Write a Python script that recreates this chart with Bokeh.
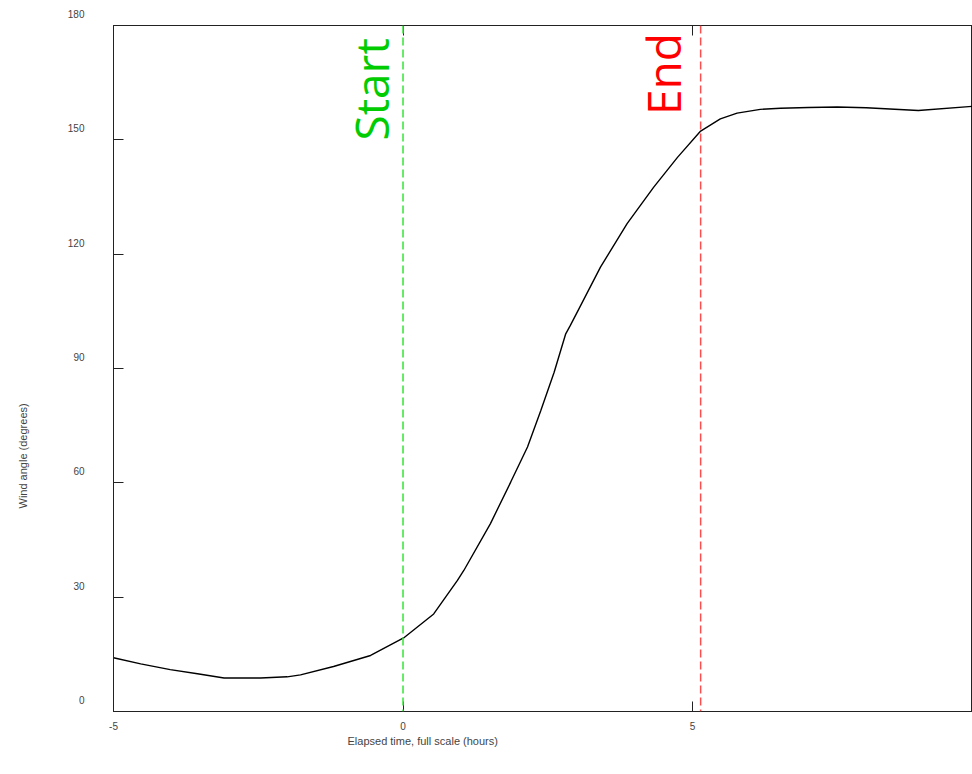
import math
from bokeh.plotting import figure
from bokeh.models import (Range1d, FixedTicker, LinearAxis, Span, Label, Title,
                          CustomJSTickFormatter)
from bokeh.embed import file_html
from bokeh.resources import INLINE

# ---- data ----
elapsed_hours = [-5.0, -4.53, -4.02, -3.55, -3.09, -2.46, -2.0, -1.77, -1.2, -0.56,
                 0.01, 0.53, 0.94, 1.05, 1.51, 1.86, 2.15, 2.38, 2.61, 2.81,
                 2.89, 3.04, 3.41, 3.87, 4.33, 4.74, 5.14, 5.48, 5.77, 6.17, 6.52,
                 7.0, 7.5, 8.0, 8.9, 9.85]
wind_angle = [14.1, 12.5, 11.0, 9.9, 8.8, 8.8, 9.1, 9.6, 11.8, 14.7,
              19.3, 25.6, 34.4, 37.0, 49.3, 60.2, 69.4, 79.0, 89.0, 99.1,
              101.3, 105.7, 116.6, 128.0, 137.6, 145.4, 152.3, 155.5, 157.0, 158.0, 158.3,
              158.5, 158.6, 158.4, 157.7, 158.8]
start_time = 0.0
end_time = 5.14
x_ticks = [-5, 0, 5, 10]
y_ticks = [0, 30, 60, 90, 120, 150, 180]
x_tick_labels = ["-5", "0", "5", "10"]
y_tick_labels = ["0", "30", "60", "90", "120", "150", "180"]
x_title = "Elapsed time, full scale (hours)"
y_title = "Wind angle (degrees)"

LABEL_FONT = "Liberation Sans"
AXIS_COL = "#222222"
TEXT_COL = "#444444"

p = figure(width=972, height=774, x_range=Range1d(-5, 9.835), y_range=Range1d(0, 180),
           output_backend="svg", toolbar_location=None,
           min_border_left=113, min_border_right=0, min_border_top=25, min_border_bottom=63)
p.grid.visible = False
p.outline_line_color = AXIS_COL
p.outline_line_width = 1
p.background_fill_color = "white"
p.border_fill_color = "white"

for ax in (p.xaxis[0], p.yaxis[0]):
    ax.major_tick_in = 10
    ax.major_tick_out = 0
    ax.minor_tick_in = 0
    ax.minor_tick_out = 0
    ax.axis_line_color = AXIS_COL
    ax.major_tick_line_color = AXIS_COL
    ax.major_label_text_font = LABEL_FONT
    ax.major_label_text_font_size = "10px"
    ax.major_label_text_color = TEXT_COL
p.xaxis[0].ticker = FixedTicker(ticks=x_ticks)
p.xaxis[0].major_label_overrides = dict(zip(x_ticks, x_tick_labels))
p.xaxis[0].major_label_standoff = 10
p.yaxis[0].ticker = FixedTicker(ticks=y_ticks)
# labels sit a little above their ticks, as in the original
p.yaxis[0].major_label_overrides = {t: s + "\n" for t, s in zip(y_ticks, y_tick_labels)}
p.yaxis[0].major_label_text_line_height = 2.0
p.yaxis[0].major_label_standoff = 29
# blank spacer so the title sits further out, as in the original
p.yaxis[0].axis_label = " "
p.yaxis[0].axis_label_standoff = 16
p.yaxis[0].axis_label_text_font_size = "13px"

top = LinearAxis(ticker=FixedTicker(ticks=x_ticks),
                 formatter=CustomJSTickFormatter(code="return ''"),
                 major_tick_in=10, major_tick_out=0, minor_tick_in=0, minor_tick_out=0,
                 axis_line_color=AXIS_COL, major_tick_line_color=AXIS_COL,
                 major_label_text_font_size="0px", major_label_standoff=0)
p.add_layout(top, "above")

# axis titles (placed like the original, off-centre)
p.add_layout(Title(text=x_title, align="left", offset=234, standoff=0,
                   text_font=LABEL_FONT, text_font_size="11px", text_font_style="normal",
                   text_color=TEXT_COL), "below")
p.add_layout(Title(text=y_title, align="left", offset=203, standoff=0, vertical_align="top",
                   text_font=LABEL_FONT, text_font_size="11px", text_font_style="normal",
                   text_color=TEXT_COL), "left")

# curve
p.line(elapsed_hours, wind_angle, line_color="black", line_width=1.4)

# start / end markers
p.add_layout(Span(location=start_time, dimension="height", line_color="#33e633",
                  line_width=1.5, line_dash="8 4"))
p.add_layout(Span(location=end_time, dimension="height", line_color="#ff4d4d",
                  line_width=1.5, line_dash="8 4"))

p.add_layout(Label(x=start_time, y=149.8, x_offset=-32, text="Start", angle=math.pi / 2,
                   text_font="Open Sans", text_font_size="46px", text_color="#00cc00",
                   text_align="left", text_baseline="alphabetic"))
p.add_layout(Label(x=end_time, y=156.5, x_offset=-38, text="End", angle=math.pi / 2,
                   text_font="Open Sans", text_font_size="46px", text_color="#ff0000",
                   text_align="left", text_baseline="alphabetic"))

open("out.html", "w").write(file_html(p, INLINE))
